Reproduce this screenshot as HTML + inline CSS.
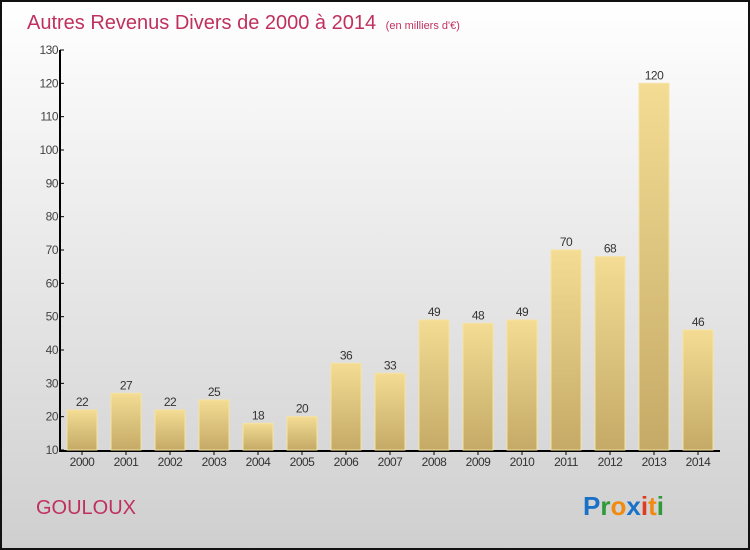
<!DOCTYPE html>
<html><head><meta charset="utf-8"><style>
body{margin:0;width:750px;height:550px;overflow:hidden}
svg{display:block}
text{font-family:"Liberation Sans",sans-serif}
</style></head><body>
<svg width="750" height="550">
<defs>
<linearGradient id="bg" x1="0" y1="0" x2="0" y2="1"><stop offset="0" stop-color="#ffffff"/><stop offset="1" stop-color="#cfcfcf"/></linearGradient>
<linearGradient id="bar" x1="0" y1="0" x2="0" y2="1"><stop offset="0" stop-color="#f4dc94"/><stop offset="1" stop-color="#c4aa66"/></linearGradient>
</defs>
<rect x="1" y="1" width="748" height="548" fill="url(#bg)" stroke="#111" stroke-width="2"/>
<text x="27" y="29" font-size="20" fill="#c0305e">Autres Revenus Divers de 2000 à 2014 <tspan font-size="11" dx="4">(en milliers d'€)</tspan></text>
<g id="axes"></g>
<g id="bars"></g>
<text x="36" y="514" font-size="20" fill="#c0305e">GOULOUX</text>
<g font-size="26" font-weight="bold">
<text x="583" y="515"><tspan fill="#1a72c8">P</tspan><tspan fill="#2e9a3a">r</tspan><tspan fill="#f08a10">o</tspan><tspan fill="#1a72c8">x</tspan><tspan fill="#e03a20">i</tspan><tspan fill="#f08a10">t</tspan><tspan fill="#2e9a3a">i</tspan></text>
</g>
</svg>
<script>
const years=["2000","2001","2002","2003","2004","2005","2006","2007","2008","2009","2010","2011","2012","2013","2014"];
const values=[22,27,22,25,18,20,36,33,49,48,49,70,68,120,46];
const ticks=[10,20,30,40,50,60,70,80,90,100,110,120,130];
const NS="http://www.w3.org/2000/svg";
const y=v=>450-(v-10)*400/120;
const x=i=>82+i*44;
const axes=document.getElementById('axes'),bars=document.getElementById('bars');
function mk(tag,attrs,txt){const e=document.createElementNS(NS,tag);for(const k in attrs)e.setAttribute(k,attrs[k]);if(txt!==undefined)e.textContent=txt;return e;}
let e=mk('line',{x1:60,y1:50,x2:60,y2:451,stroke:'#000','stroke-width':2});


axes.appendChild(e);
e=mk('line',{x1:59,y1:451,x2:720,y2:451,stroke:'#000','stroke-width':2});


axes.appendChild(e);
ticks.forEach(t=>{
 const tk=mk('line',{x1:60,y1:y(t),x2:64,y2:y(t),stroke:'#000'});
 
 
 axes.appendChild(tk);
 const l=mk('text',{x:58,y:y(t)+4,'font-size':12,fill:'#444','text-anchor':'end','letter-spacing':'-0.5'},t);
 
 
 axes.appendChild(l);
});
years.forEach((yr,i)=>{
 const v=values[i];
 const r=mk('rect',{x:x(i)-15,y:y(v),width:30,height:450-y(v),fill:'url(#bar)',stroke:'#f6e3a0','stroke-width':1});
 
 
 bars.appendChild(r);
 const tk=mk('line',{x1:x(i),y1:451,x2:x(i),y2:455,stroke:'#000'});
 
 
 axes.appendChild(tk);
 const l=mk('text',{x:x(i),y:466,'font-size':12,fill:'#333','text-anchor':'middle','letter-spacing':'-0.5'},yr);
 
 
 axes.appendChild(l);
 const vl=mk('text',{x:x(i),y:y(v)-4,'font-size':12,fill:'#333','text-anchor':'middle','letter-spacing':'-0.5'},v);
 
 
 bars.appendChild(vl);
});
</script>
</body></html>
